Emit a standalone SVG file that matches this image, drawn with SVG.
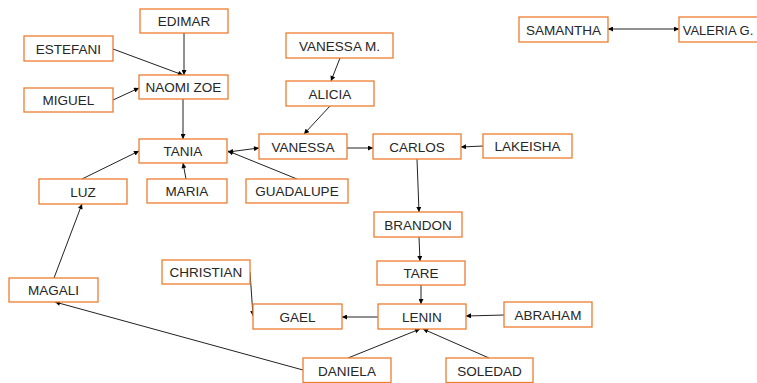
<svg xmlns="http://www.w3.org/2000/svg" width="757" height="383" viewBox="0 0 757 383">
<defs>
<marker id="ah" viewBox="0 0 10 10" refX="10" refY="5" markerWidth="6" markerHeight="5" markerUnits="userSpaceOnUse" orient="auto-start-reverse">
<path d="M0,0 L10,5 L0,10 z" fill="#000"/>
</marker>
<style>
.n rect{fill:#fff;stroke:#ED7D31;stroke-width:1.3}
.n text{font-family:"Liberation Sans",Arial,sans-serif;font-size:13.5px;fill:#262626;text-anchor:middle}
#edges line{stroke:#222;stroke-width:1;fill:none;marker-end:url(#ah)}
#edges line.bi{marker-start:url(#ah)}
</style>
</defs>
<rect width="757" height="383" fill="#fff"/>
<g id="edges">
<line x1="184" y1="33" x2="184" y2="75"/>
<line x1="113" y1="49" x2="183" y2="75"/>
<line x1="113" y1="100" x2="139" y2="88"/>
<line x1="183" y1="99" x2="183" y2="139"/>
<line x1="186" y1="179" x2="183" y2="163"/>
<line x1="297" y1="179" x2="228" y2="151"/>
<line class="bi" x1="228" y1="152" x2="259" y2="148"/>
<line x1="82" y1="179" x2="139" y2="151"/>
<line x1="54" y1="278" x2="82" y2="204"/>
<line x1="340" y1="58" x2="331" y2="81"/>
<line x1="330" y1="106" x2="304" y2="134"/>
<line x1="347" y1="148" x2="373" y2="148"/>
<line x1="483" y1="146" x2="461" y2="147"/>
<line x1="417" y1="159" x2="419" y2="212"/>
<line x1="419" y1="237" x2="420" y2="261"/>
<line x1="421" y1="285" x2="421" y2="304"/>
<line x1="378" y1="317" x2="342" y2="317"/>
<line x1="504" y1="315" x2="466" y2="316"/>
<line x1="348" y1="358" x2="420" y2="329"/>
<line x1="489" y1="358" x2="423" y2="329"/>
<line x1="303" y1="370" x2="55" y2="302"/>
<line x1="250" y1="272" x2="253" y2="316"/>
<line class="bi" x1="608" y1="29" x2="679" y2="29"/>
</g>
<g id="edimar" class="n"><rect x="140" y="9" width="88" height="24"/><text x="184" y="26">EDIMAR</text></g>
<g id="estefani" class="n"><rect x="24" y="36" width="89" height="25"/><text x="68.5" y="53.5">ESTEFANI</text></g>
<g id="naomi" class="n"><rect x="139" y="75" width="89" height="24"/><text x="183.5" y="92">NAOMI ZOE</text></g>
<g id="miguel" class="n"><rect x="24" y="88" width="89" height="24"/><text x="68.5" y="105">MIGUEL</text></g>
<g id="tania" class="n"><rect x="139" y="139" width="88" height="24"/><text x="183" y="156">TANIA</text></g>
<g id="maria" class="n"><rect x="147" y="179" width="80" height="24"/><text x="187" y="196">MARIA</text></g>
<g id="guadalupe" class="n"><rect x="246" y="179" width="102" height="24"/><text x="297" y="196">GUADALUPE</text></g>
<g id="luz" class="n"><rect x="39" y="179" width="88" height="25"/><text x="83" y="196.5">LUZ</text></g>
<g id="vanessam" class="n"><rect x="286" y="33" width="107" height="25"/><text x="339.5" y="50.5">VANESSA M.</text></g>
<g id="alicia" class="n"><rect x="286" y="81" width="88" height="25"/><text x="330" y="98.5">ALICIA</text></g>
<g id="vanessa" class="n"><rect x="259" y="134" width="88" height="25"/><text x="303" y="151.5">VANESSA</text></g>
<g id="carlos" class="n"><rect x="373" y="134" width="88" height="25"/><text x="417" y="151.5">CARLOS</text></g>
<g id="lakeisha" class="n"><rect x="483" y="134" width="89" height="24"/><text x="527.5" y="151">LAKEISHA</text></g>
<g id="samantha" class="n"><rect x="519" y="17" width="89" height="25"/><text x="563.5" y="34.5">SAMANTHA</text></g>
<g id="valeria" class="n"><rect x="679" y="17" width="88" height="25"/><text x="718" y="34.5" style="font-size:13px">VALERIA G.</text></g>
<g id="brandon" class="n"><rect x="374" y="212" width="88" height="25"/><text x="418" y="229.5">BRANDON</text></g>
<g id="tare" class="n"><rect x="377" y="261" width="88" height="24"/><text x="421" y="278">TARE</text></g>
<g id="christian" class="n"><rect x="162" y="260" width="88" height="24"/><text x="206" y="277">CHRISTIAN</text></g>
<g id="gael" class="n"><rect x="253" y="304" width="89" height="25"/><text x="297.5" y="321.5">GAEL</text></g>
<g id="lenin" class="n"><rect x="378" y="304" width="88" height="25"/><text x="422" y="321.5">LENIN</text></g>
<g id="abraham" class="n"><rect x="504" y="302" width="88" height="25"/><text x="548" y="319.5">ABRAHAM</text></g>
<g id="magali" class="n"><rect x="9" y="278" width="89" height="24"/><text x="53.5" y="295">MAGALI</text></g>
<g id="daniela" class="n"><rect x="303" y="358" width="88" height="24.5"/><text x="347" y="375.5">DANIELA</text></g>
<g id="soledad" class="n"><rect x="446" y="358" width="87" height="24.5"/><text x="489.5" y="375.5">SOLEDAD</text></g>
</svg>
